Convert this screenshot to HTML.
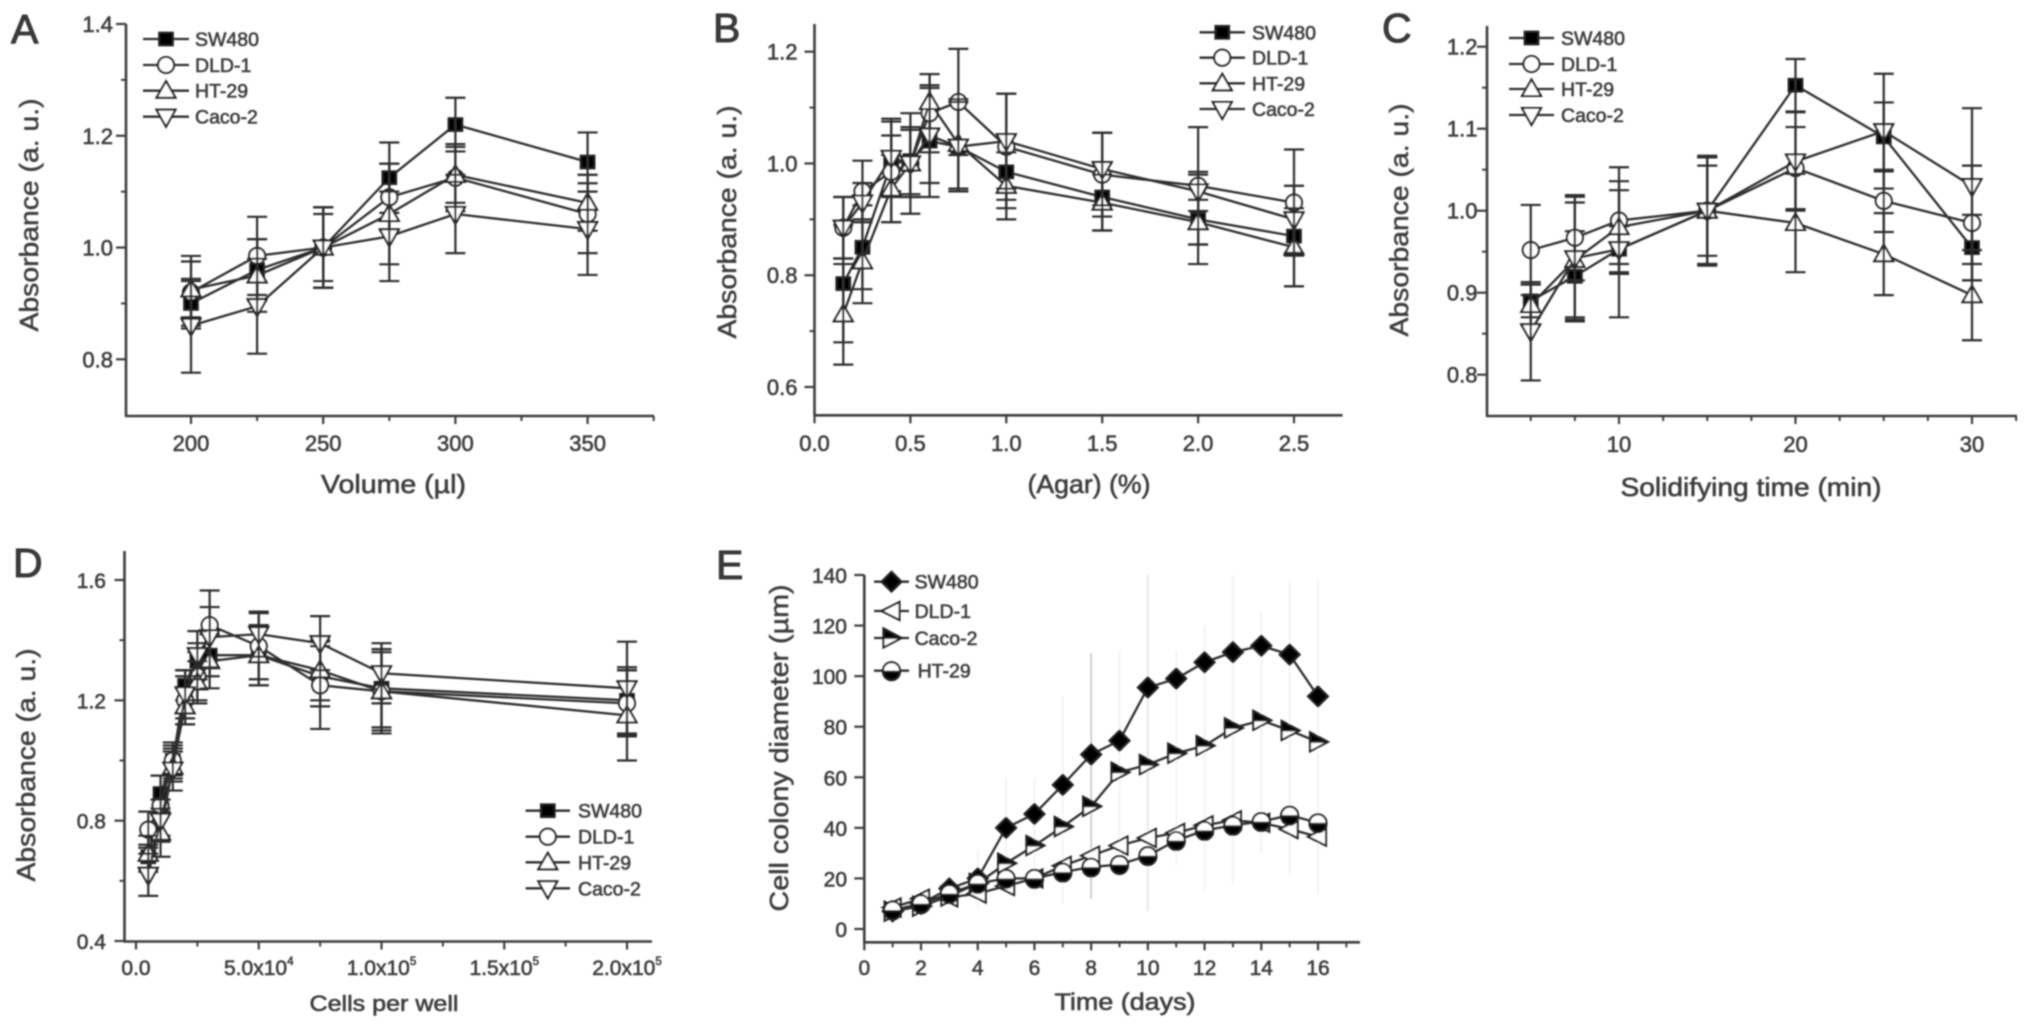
<!DOCTYPE html>
<html lang="en">
<head>
<meta charset="utf-8">
<title>Absorbance and colony diameter panels</title>
<style>
html,body{margin:0;padding:0;background:#fff;}
svg{display:block;}
text{font-family:"Liberation Sans",sans-serif;fill:#3e3e3e;}
</style>
</head>
<body>
<svg id="figure" xmlns="http://www.w3.org/2000/svg" width="2031" height="1030" viewBox="0 0 2031 1030">
<defs>
<filter id="soft" x="-2%" y="-2%" width="104%" height="104%"><feGaussianBlur stdDeviation="0.8"/></filter>
</defs>
<rect width="2031" height="1030" fill="#fff"/>
<g id="root" filter="url(#soft)"></g>
</svg>
<script>
// ---------- Panel A ----------
const aX = [200,225,250,275,300,350];
const aSw = [0.90,0.96,1.00,1.125,1.22,1.153];
const aSwErr = [0.04,0.055,0.072,0.063,0.048,0.053];
const aDld = [0.92,0.985,1.00,1.09,1.125,1.06];
const aDldErr = [0.065,0.07,0.06,0.06,0.06,0.07];
const aHt = [0.925,0.95,1.00,1.06,1.13,1.08];
const aHtErr = [0.05,0.065,0.072,0.09,0.05,0.05];
const aCaco = [0.86,0.895,1.00,1.02,1.06,1.033];
const aCacoErr = [0.084,0.085,0.072,0.08,0.07,0.082];
const aXMajor = [200,250,300,350];
const aXLabels = ['200','250','300','350'];
const aXMinor = [225,275,325,375];
const aYMajor = [0.8,1.0,1.2,1.4];
const aYLabels = ['0.8','1.0','1.2','1.4'];
const aYMinor = [0.9,1.1,1.3];

// ---------- Panel B ----------
const bX = [0.15,0.25,0.4,0.5,0.6,0.75,1.0,1.5,2.0,2.5];
const bSw = [0.785,0.85,1.00,1.005,1.04,1.03,0.985,0.94,0.90,0.87];
const bSwErr = [0.105,0.075,0.05,0.06,0.1,0.08,0.065,0.06,0.08,0.09];
const bDld = [0.885,0.95,0.985,1.00,1.09,1.11,1.03,0.98,0.96,0.93];
const bDldErr = [0.055,0.055,0.09,0.09,0.07,0.095,0.095,0.075,0.105,0.095];
const bHt = [0.73,0.825,0.955,1.00,1.11,1.035,0.96,0.93,0.895,0.85];
const bHtErr = [0.09,0.075,0.06,0.06,0.05,0.08,0.06,0.05,0.04,0.07];
const bCaco = [0.885,0.93,1.01,1.00,1.05,1.03,1.04,0.99,0.95,0.90];
const bCacoErr = [0.055,0.035,0.07,0.06,0.085,0.08,0.085,0.065,0.035,0.06];
const bXMajor = [0,0.5,1.0,1.5,2.0,2.5];
const bXLabels = ['0.0','0.5','1.0','1.5','2.0','2.5'];
const bXMinor = [];
const bYMajor = [0.6,0.8,1.0,1.2];
const bYLabels = ['0.6','0.8','1.0','1.2'];
const bYMinor = [0.7,0.9,1.1];

// ---------- Panel C ----------
const cX = [5,7.5,10,15,20,25,30];
const cSw = [0.89,0.92,0.953,1.00,1.153,1.09,0.955];
const cSwErr = [0.02,0.055,0.028,0.065,0.032,0.042,0.04];
const cDld = [0.952,0.967,0.988,1.00,1.052,1.012,0.985];
const cDldErr = [0.055,0.052,0.065,0.055,0.05,0.038,0.07];
const cHt = [0.885,0.94,0.98,1.00,0.985,0.947,0.897];
const cHtErr = [0.025,0.07,0.045,0.065,0.06,0.05,0.055];
const cCaco = [0.853,0.942,0.953,1.00,1.06,1.097,1.03];
const cCacoErr = [0.06,0.075,0.083,0.067,0.06,0.07,0.095];
const cXMajor = [10,20,30];
const cXLabels = ['10','20','30'];
const cXMinor = [5,7.5,12.5,15,17.5,22.5,25,27.5,32.5];
const cYMajor = [0.8,0.9,1.0,1.1,1.2];
const cYLabels = ['0.8','0.9','1.0','1.1','1.2'];
const cYMinor = [0.85,0.95,1.05,1.15];

// ---------- Panel D ----------
const dX = [5000,10000,15000,20000,25000,30000,50000,75000,100000,200000];
const dSw = [0.68,0.89,1.00,1.25,1.33,1.35,1.35,1.28,1.24,1.20];
const dSwErr = [0.04,0.06,0.05,0.05,0.06,0.07,0.10,0.10,0.13,0.11];
const dDld = [0.77,0.85,1.00,1.20,1.28,1.45,1.38,1.25,1.23,1.19];
const dDldErr = [0.06,0.10,0.06,0.08,0.08,0.115,0.11,0.145,0.13,0.11];
const dHt = [0.69,0.76,0.98,1.18,1.26,1.33,1.35,1.30,1.23,1.15];
const dHtErr = [0.06,0.08,0.05,0.06,0.07,0.09,0.10,0.10,0.14,0.15];
const dCaco = [0.62,0.80,0.97,1.22,1.35,1.41,1.42,1.39,1.29,1.24];
const dCacoErr = [0.07,0.07,0.07,0.08,0.08,0.10,0.075,0.09,0.10,0.155];
const dXMajor = [0,50000,100000,150000,200000];
const dXLabels = ['0.0','5.0x10^4','1.0x10^5','1.5x10^5','2.0x10^5'];
const dXMinor = [25000,75000,125000,175000];
const dYMajor = [0.4,0.8,1.2,1.6];
const dYLabels = ['0.4','0.8','1.2','1.6'];
const dYMinor = [0.6,1.0,1.4];

// ---------- Panel E ----------
const eX = [1,2,3,4,5,6,7,8,9,10,11,12,13,14,15,16];
const eSw = [7,10,16,20,40,45.5,57,69,74.5,95.5,99,105.5,109.5,112,108.5,92];
const eDld = [8.5,12,12.5,14,17,20,25,29,33,36,38,41,43,42,39.5,36.5];
const eCaco = [7,9,13,18,26,33,40.5,48.5,62,65,69.5,72.5,79.5,82.5,78.5,74];
const eHt = [7.5,10,14,18,20,20,22.5,24.5,25.5,29,35,39,41,42.5,45,42];
const eSpreadHigh = [10,14,18,31,60,60,92,109,110,140,110,120,140,125,138,138];
const eSpreadLow = [5,7,8,8,20,14,10,12,25,7,25,15,18,30,22,14];
const eXMajor = [0,2,4,6,8,10,12,14,16];
const eXLabels = ['0','2','4','6','8','10','12','14','16'];
const eXMinor = [1,3,5,7,9,11,13,15,17];
const eYMajor = [0,20,40,60,80,100,120,140];
const eYLabels = ['0','20','40','60','80','100','120','140'];
const eYMinor = [];

const NS = 'http://www.w3.org/2000/svg';
const INK = '#2e2e2e';
const root = document.getElementById('root');

function mk(parent, tag, attrs, txt) {
  const n = document.createElementNS(NS, tag);
  for (const k in attrs) n.setAttribute(k, attrs[k]);
  if (txt !== undefined) n.textContent = txt;
  parent.appendChild(n);
  return n;
}
function scale(d0, d1, r0, r1) {
  return v => r0 + (v - d0) * (r1 - r0) / (d1 - d0);
}
function slug(s) { return s.toLowerCase().replace(/[^a-z0-9]+/g, '-').replace(/^-|-$/g, ''); }

function marker(parent, type, x, y) {
  const g = mk(parent, 'g', { transform: 'translate(' + x + ' ' + y + ')', stroke: '#222', 'stroke-width': 2.1, fill: '#fff' });
  if (type === 'square') {
    mk(g, 'rect', { x: -6.8, y: -6.3, width: 13.6, height: 12.6, fill: '#050505' });
  } else if (type === 'circle') {
    mk(g, 'ellipse', { cx: 0, cy: 0, rx: 8, ry: 8 });
  } else if (type === 'up') {
    mk(g, 'path', { d: 'M0 -9.5 L9.5 7 L-9.5 7 Z' });
  } else if (type === 'down') {
    mk(g, 'path', { d: 'M0 10 L9.5 -7 L-9.5 -7 Z' });
  } else if (type === 'diamond') {
    mk(g, 'path', { d: 'M0 -10 L10 0 L0 10 L-10 0 Z', fill: '#050505' });
  } else if (type === 'left') {
    mk(g, 'path', { d: 'M-10 0 L8 -9 L8 9 Z' });
  } else if (type === 'right') {
    mk(g, 'path', { d: 'M10 0 L-8 -9.5 L-8 9.5 Z' });
    mk(g, 'path', { d: 'M10 0 L-8 -9.5 L-8 0 Z', fill: '#050505' });
  } else if (type === 'halfcircle') {
    mk(g, 'ellipse', { cx: 0, cy: 0, rx: 8.5, ry: 8.5 });
    mk(g, 'path', { d: 'M-8.5 1 A8.5 8.5 0 0 0 8.5 1 Z', fill: '#050505' });
  }
  return g;
}

function tickLabel(parent, x, y, label, size) {
  const t = mk(parent, 'text', { x: x, y: y, 'text-anchor': 'middle', 'font-size': size, stroke: '#3e3e3e', 'stroke-width': 0.6 });
  const parts = label.split('^');
  t.appendChild(document.createTextNode(parts[0]));
  if (parts[1]) mk(t, 'tspan', { 'font-size': size * 0.55, dy: -10 }, parts[1]);
  return t;
}

function drawPanel(p) {
  const g = mk(root, 'g', {});
  
  
  const xs = scale(p.xd[0], p.xd[1], p.xr[0], p.xr[1]);
  const ys = scale(p.yd[0], p.yd[1], p.yr[0], p.yr[1]);

  const letter = mk(g, 'text', { x: p.letter[0], y: p.letter[1], 'font-size': 41, fill: '#111', stroke: '#111', 'stroke-width': 0.8 }, p.id);
  
  

  // axes
  const yAxis = mk(g, 'line', { x1: p.left, x2: p.left, y1: p.top, y2: p.bottom, stroke: '#3c3c3c', 'stroke-width': 2.6 });
  
  
  const xAxis = mk(g, 'line', { x1: p.left - 1, x2: p.right, y1: p.bottom, y2: p.bottom, stroke: '#3c3c3c', 'stroke-width': 2.6 });
  
  

  p.yMajor.forEach((v, i) => {
    const y = ys(v);
    const tk = mk(g, 'line', { x1: p.left - 10, x2: p.left, y1: y, y2: y, stroke: '#3c3c3c', 'stroke-width': 2.2 });
    
    
    const lb = mk(g, 'text', { x: p.yLabelX, y: y + 8, 'text-anchor': 'end', 'font-size': p.tickSize, stroke: '#3e3e3e', 'stroke-width': 0.6 }, p.yLabels[i]);
    
    
  });
  p.yMinor.forEach(v => {
    const y = ys(v);
    const tk = mk(g, 'line', { x1: p.left - 5, x2: p.left, y1: y, y2: y, stroke: '#3c3c3c', 'stroke-width': 2 });
    
    
  });
  p.xMajor.forEach((v, i) => {
    const x = xs(v);
    const tk = mk(g, 'line', { x1: x, x2: x, y1: p.bottom, y2: p.bottom + 8, stroke: '#3c3c3c', 'stroke-width': 2.2 });
    
    
    const lb = tickLabel(g, x, p.xLabelY, p.xLabels[i], p.tickSize);
    
    
  });
  p.xMinor.forEach(v => {
    const x = xs(v);
    const tk = mk(g, 'line', { x1: x, x2: x, y1: p.bottom, y2: p.bottom + 5, stroke: '#3c3c3c', 'stroke-width': 2 });
    
    
  });

  // titles
  const xt = mk(g, 'text', { x: p.xTitle[0], y: p.xTitle[1], 'text-anchor': 'middle', 'font-size': p.xTitle[3], textLength: p.xTitle[2], lengthAdjust: 'spacingAndGlyphs', stroke: '#3e3e3e', 'stroke-width': 0.6 }, p.xTitleText);
  
  
  const yt = mk(g, 'text', { transform: 'translate(' + p.yTitle[0] + ' ' + p.yTitle[1] + ') rotate(-90)', 'text-anchor': 'middle', 'font-size': 26, textLength: p.yTitle[2], lengthAdjust: 'spacingAndGlyphs', stroke: '#3e3e3e', 'stroke-width': 0.5 }, p.yTitleText);
  
  

  // spread lines (panel E only)
  if (p.spread) {
    eX.forEach((d, i) => {
      const s = mk(g, 'line', { x1: xs(d), x2: xs(d), y1: ys(eSpreadHigh[i]), y2: ys(eSpreadLow[i]), stroke: d === 8 ? '#c8c8c8' : (d === 10 ? '#e2e2e2' : '#f1f1f1'), 'stroke-width': 1.6 });
      
      
    });
  }

  // series
  p.series.forEach(s => {
    const sg = mk(g, 'g', {});
    
    
    const pts = s.x.map((v, i) => xs(v) + ',' + ys(s.y[i])).join(' ');
    const pl = mk(sg, 'polyline', { points: pts, fill: 'none', stroke: INK, 'stroke-width': 2.3 });
    
    
    s.x.forEach((v, i) => {
      const m = marker(sg, s.type, xs(v), ys(s.y[i]));
      
      
    });
    if (s.e) {
      s.x.forEach((v, i) => {
        const x = xs(v);
        const hi = ys(s.y[i] + s.e[i]);
        const lo = ys(s.y[i] - s.e[i]);
        const eb = mk(sg, 'path', { d: 'M' + x + ' ' + hi + 'V' + lo + 'M' + (x - 10) + ' ' + hi + 'H' + (x + 10) + 'M' + (x - 10) + ' ' + lo + 'H' + (x + 10), fill: 'none', stroke: INK, 'stroke-width': 2.2 });
        
        
      });
    }
  });

  // legend
  const lg = mk(g, 'g', {});
  
  
  p.series.forEach((s, i) => {
    const L = p.legend;
    const y = L.ys[i];
    const en = mk(lg, 'g', {});
    
    
    mk(en, 'line', { x1: L.x0, x2: L.x1, y1: y, y2: y, stroke: INK, 'stroke-width': 2.3 });
    marker(en, s.type, (L.x0 + L.x1) / 2, y);
    mk(en, 'text', { x: L.tx + (s.name === 'HT-29' && p.id === 'E' ? 3 : 0), y: y + 7, 'font-size': 19.5, stroke: '#3e3e3e', 'stroke-width': 0.6 }, s.name);
  });
}

function quad(x, sw, swe, dld, dlde, ht, hte, caco, cacoe) {
  return [
    { name: 'SW480', type: 'square', x: x, y: sw, e: swe },
    { name: 'DLD-1', type: 'circle', x: x, y: dld, e: dlde },
    { name: 'HT-29', type: 'up', x: x, y: ht, e: hte },
    { name: 'Caco-2', type: 'down', x: x, y: caco, e: cacoe }
  ];
}

drawPanel({ id: 'A', letter: [11, 43], left: 126, right: 654, top: 24, bottom: 416,
  xd: [200, 350], xr: [191, 587.6], yd: [0.8, 1.4], yr: [359.3, 24],
  xMajor: aXMajor, xLabels: aXLabels, xMinor: aXMinor, yMajor: aYMajor, yLabels: aYLabels, yMinor: aYMinor,
  yLabelX: 113, xLabelY: 451, tickSize: 22,
  xTitleText: 'Volume (µl)', xTitle: [393.5, 493, 145, 26], yTitleText: 'Absorbance (a. u.)', yTitle: [38, 215, 233],
  series: quad(aX, aSw, aSwErr, aDld, aDldErr, aHt, aHtErr, aCaco, aCacoErr),
  legend: { x0: 143, x1: 189, tx: 195, ys: [39, 65, 90.7, 116.7] } });

drawPanel({ id: 'B', letter: [713, 42], left: 814.5, right: 1342.5, top: 24, bottom: 415.3,
  xd: [0, 2.5], xr: [814.5, 1294], yd: [0.6, 1.2], yr: [387, 51.7],
  xMajor: bXMajor, xLabels: bXLabels, xMinor: bXMinor, yMajor: bYMajor, yLabels: bYLabels, yMinor: bYMinor,
  yLabelX: 797.5, xLabelY: 451, tickSize: 22,
  xTitleText: '(Agar) (%)', xTitle: [1089, 493, 123, 26], yTitleText: 'Absorbance (a. u.)', yTitle: [736, 222, 233],
  series: quad(bX, bSw, bSwErr, bDld, bDldErr, bHt, bHtErr, bCaco, bCacoErr),
  legend: { x0: 1199.5, x1: 1245, tx: 1252, ys: [32.3, 57.7, 83.3, 109] } });

drawPanel({ id: 'C', letter: [1382, 42], left: 1487, right: 2017, top: 26, bottom: 416,
  xd: [10, 30], xr: [1619, 1972], yd: [0.8, 1.2], yr: [374.7, 46.7],
  xMajor: cXMajor, xLabels: cXLabels, xMinor: cXMinor, yMajor: cYMajor, yLabels: cYLabels, yMinor: cYMinor,
  yLabelX: 1477.5, xLabelY: 452, tickSize: 22,
  xTitleText: 'Solidifying time (min)', xTitle: [1751, 496, 261, 26], yTitleText: 'Absorbance (a. u.)', yTitle: [1408, 220, 233],
  series: quad(cX, cSw, cSwErr, cDld, cDldErr, cHt, cHtErr, cCaco, cCacoErr),
  legend: { x0: 1509, x1: 1554, tx: 1561, ys: [38, 64, 89, 115] } });

drawPanel({ id: 'D', letter: [13, 577], left: 124.5, right: 652, top: 551, bottom: 941.5,
  xd: [0, 200000], xr: [136, 627], yd: [0.4, 1.6], yr: [941, 580],
  xMajor: dXMajor, xLabels: dXLabels, xMinor: dXMinor, yMajor: dYMajor, yLabels: dYLabels, yMinor: dYMinor,
  yLabelX: 106, xLabelY: 975, tickSize: 21,
  xTitleText: 'Cells per well', xTitle: [384, 1011, 149, 22], yTitleText: 'Absorbance (a. u.)', yTitle: [35, 765, 233],
  series: quad(dX, dSw, dSwErr, dDld, dDldErr, dHt, dHtErr, dCaco, dCacoErr),
  legend: { x0: 525.6, x1: 570, tx: 578, ys: [810.7, 836.7, 862.3, 888.3] } });

drawPanel({ id: 'E', letter: [716, 579], left: 864.3, right: 1360, top: 575, bottom: 942.3,
  xd: [0, 16], xr: [864.3, 1318], yd: [0, 140], yr: [929, 575],
  xMajor: eXMajor, xLabels: eXLabels, xMinor: eXMinor, yMajor: eYMajor, yLabels: eYLabels, yMinor: eYMinor,
  yLabelX: 847, xLabelY: 975, tickSize: 21, spread: true,
  xTitleText: 'Time  (days)', xTitle: [1125, 1010, 141, 24], yTitleText: 'Cell colony diameter (µm)', yTitle: [788, 748, 327],
  series: [
    { name: 'SW480', type: 'diamond', x: eX, y: eSw },
    { name: 'DLD-1', type: 'left', x: eX, y: eDld },
    { name: 'Caco-2', type: 'right', x: eX, y: eCaco },
    { name: 'HT-29', type: 'halfcircle', x: eX, y: eHt }
  ],
  legend: { x0: 874, x1: 909, tx: 914.6, ys: [581.7, 611, 638, 670.7] } });
</script>
</body>
</html>
